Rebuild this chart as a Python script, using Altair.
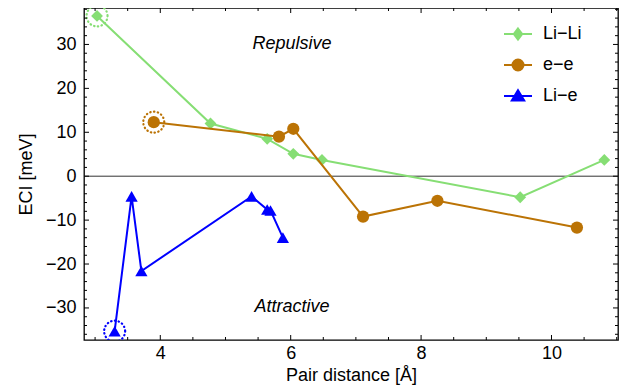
import altair as alt
import pandas as pd

# ---- data ----
series_names = ["Li\u2212Li", "e\u2212e", "Li\u2212e"]
colors = ["#86de74", "#bb7305", "#0000ff"]

lili_x = [3.03, 4.77, 5.64, 6.04, 6.48, 9.52, 10.81]
lili_y = [36.5, 12.0, 8.5, 5.1, 3.7, -4.8, 3.7]
ee_x = [3.90, 5.82, 6.04, 7.11, 8.25, 10.39]
ee_y = [12.3, 9.0, 10.8, -9.2, -5.6, -11.7]
lie_x = [3.30, 3.56, 3.71, 5.40, 5.64, 5.69, 5.88]
lie_y = [-35.3, -4.6, -21.6, -4.6, -7.6, -7.8, -14.0]

# highlighted (dotted circle) points
hl_x = [3.03, 3.90, 3.30]
hl_y = [36.5, 12.3, -35.3]

note_text = ["Repulsive", "Attractive"]
note_x = [6.02, 6.02]
note_y = [30.0, -29.8]

x_major = [4, 6, 8, 10]
x_minor = [3, 3.5, 4.5, 5, 5.5, 6.5, 7, 7.5, 8.5, 9, 9.5, 10.5, 11]
y_major = [-30, -20, -10, 0, 10, 20, 30]
y_minor = [-36, -34, -32, -28, -26, -24, -22, -18, -16, -14, -12, -8, -6, -4, -2,
           2, 4, 6, 8, 12, 14, 16, 18, 22, 24, 26, 28, 32, 34, 36, 38]

W, H = 534, 332
FONT = "Liberation Sans"

xs = alt.Scale(domain=[2.83, 11.02], nice=False, zero=False)
ys = alt.Scale(domain=[-37.3, 38.3], nice=False, zero=False)

X_axis = alt.Axis(values=x_major, ticks=False, domain=False, grid=False,
                  labelFont=FONT, labelFontSize=18, labelColor="black", labelPadding=4,
                  title="Pair distance [\u00c5]", titleFont=FONT, titleFontSize=18,
                  titleFontWeight="normal", titleColor="black",
                  titleBaseline="alphabetic", titleY=40)
Y_axis = alt.Axis(values=y_major, ticks=False, domain=False, grid=False,
                  labelFont=FONT, labelFontSize=18, labelColor="black", labelPadding=8,
                  title="ECI [meV]", titleFont=FONT, titleFontSize=18,
                  titleFontWeight="normal", titleColor="black",
                  titleX=-58, titleY=H / 2, titleBaseline="middle", titleAlign="center")

def X(field):
    return alt.X(field, type="quantitative", scale=xs, axis=X_axis)

def Y(field):
    return alt.Y(field, type="quantitative", scale=ys, axis=Y_axis)

def sdf(xv, yv, name):
    return pd.DataFrame({"x": xv, "y": yv, "series": name, "idx": list(range(len(xv)))})

dfs = [sdf(lili_x, lili_y, series_names[0]),
       sdf(ee_x, ee_y, series_names[1]),
       sdf(lie_x, lie_y, series_names[2])]
shapes = ["diamond", "circle", "triangle-up"]
sizes = [140, 150, 150]

layers = []

# zero line
layers.append(alt.Chart(pd.DataFrame({"v": [0]})).mark_rule(color="#333333", strokeWidth=1).encode(
    y=Y("v")))

# lines and points
for i, df in enumerate(dfs):
    line = alt.Chart(df).mark_line(color=colors[i], strokeWidth=2).encode(
        x=X("x"), y=Y("y"), order="idx:Q")
    pts = alt.Chart(df).mark_point(filled=True, shape=shapes[i], size=sizes[i], opacity=1,
                                   color=colors[i]).encode(x=X("x"), y=Y("y"))
    layers += [line, pts]

# dotted highlight circles
for i in range(3):
    hdf = pd.DataFrame({"x": [hl_x[i]], "y": [hl_y[i]]})
    layers.append(alt.Chart(hdf).mark_point(shape="circle", size=441, filled=False, opacity=1,
                                            color=colors[i], strokeWidth=2.2, strokeCap="round",
                                            strokeDash=[0.4, 3.4], clip=True).encode(
        x=X("x"), y=Y("y")))

# annotations
note_df = pd.DataFrame({"x": note_x, "y": note_y, "t": note_text})
layers.append(alt.Chart(note_df).mark_text(font=FONT, fontSize=18, fontStyle="italic",
                                           color="black", baseline="middle", align="center").encode(
    x=X("x"), y=Y("y"), text="t:N"))

# inward frame ticks
def yticks(vals, L):
    d = pd.DataFrame({"v": vals})
    a = alt.Chart(d).mark_rule(color="black", strokeWidth=1).encode(
        y=Y("v"), x=alt.value(0), x2=alt.value(L))
    b = alt.Chart(d).mark_rule(color="black", strokeWidth=1).encode(
        y=Y("v"), x=alt.value(W - L), x2=alt.value(W))
    return [a, b]

def xticks(vals, L):
    d = pd.DataFrame({"v": vals})
    a = alt.Chart(d).mark_rule(color="black", strokeWidth=1).encode(
        x=X("v"), y=alt.value(H - L), y2=alt.value(H))
    b = alt.Chart(d).mark_rule(color="black", strokeWidth=1).encode(
        x=X("v"), y=alt.value(0), y2=alt.value(L))
    return [a, b]

layers += yticks(y_major, 5) + yticks(y_minor, 3) + xticks(x_major, 5) + xticks(x_minor, 3)

# legend (symbols are line + marker paths)
legend_paths = [
    "M-1.4,0H1.4M0,-0.55L0.42,0L0,0.55L-0.42,0Z",
    "M-1.4,0H1.4M0.55,0A0.55,0.55 0 1 1 -0.55,0A0.55,0.55 0 1 1 0.55,0Z",
    "M-1.4,0H1.4M0,-0.58L0.62,0.44L-0.62,0.44Z",
]
leg = alt.Legend(title=None, orient="none", legendX=423, legendY=15, padding=0,
                 labelFont=FONT, labelFontSize=18, labelColor="black", labelOffset=14,
                 symbolSize=400, symbolStrokeWidth=2, rowPadding=10, symbolOpacity=1)
leg_df = pd.DataFrame({"x": [3.0, 3.0, 3.0], "y": [0.0, 0.0, 0.0], "series": series_names})
layers.append(alt.Chart(leg_df).transform_filter("false").mark_point(
    filled=True, opacity=1, strokeWidth=2).encode(
    x=X("x"), y=Y("y"),
    shape=alt.Shape("series:N", scale=alt.Scale(domain=series_names, range=legend_paths), legend=leg),
    fill=alt.Fill("series:N", scale=alt.Scale(domain=series_names, range=colors), legend=leg),
    stroke=alt.Stroke("series:N", scale=alt.Scale(domain=series_names, range=colors), legend=leg)))

chart = alt.layer(*layers).properties(
    width=W, height=H,
    autosize=alt.AutoSizeParams(type="none"),
    padding={"left": 76, "top": 0, "right": 1, "bottom": 45},
    background="white",
).configure_view(stroke="black", strokeWidth=1.3)

chart.save("out.html", embed_options={"renderer": "svg", "actions": False})
